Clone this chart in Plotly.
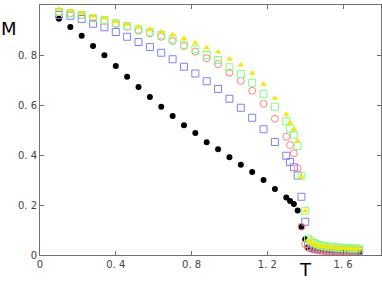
import plotly.graph_objects as go

T_main = [0.10, 0.16, 0.22, 0.28, 0.34, 0.40, 0.46, 0.52, 0.58, 0.64, 0.70, 0.76, 0.82,
          0.88, 0.94, 1.00, 1.06, 1.12, 1.18, 1.24, 1.30, 1.32, 1.34, 1.36, 1.38, 1.40]
T_tail = [1.415, 1.43, 1.445, 1.46, 1.475, 1.49, 1.505, 1.52, 1.535, 1.55, 1.565, 1.58,
          1.595, 1.61, 1.625, 1.64, 1.655, 1.67, 1.685]
T = T_main + T_tail

M_black = [0.945, 0.912, 0.877, 0.836, 0.799, 0.756, 0.713, 0.672, 0.632, 0.593, 0.556, 0.519, 0.488,
           0.451, 0.423, 0.391, 0.361, 0.332, 0.300, 0.264, 0.230, 0.216, 0.204, 0.178, 0.113, 0.063,
           0.030, 0.024, 0.020, 0.018, 0.016, 0.015, 0.014, 0.013, 0.013, 0.012, 0.012, 0.011, 0.011,
           0.011, 0.010, 0.010, 0.010, 0.010, 0.010]
M_blue = [0.960, 0.957, 0.944, 0.925, 0.911, 0.892, 0.873, 0.852, 0.832, 0.809, 0.783, 0.753, 0.726,
          0.695, 0.664, 0.625, 0.589, 0.549, 0.503, 0.452, 0.397, 0.372, 0.351, 0.318, 0.233, 0.133,
          0.045, 0.035, 0.030, 0.027, 0.025, 0.023, 0.022, 0.021, 0.020, 0.020, 0.019, 0.019, 0.018,
          0.018, 0.018, 0.017, 0.017, 0.017, 0.017]
M_red = [0.972, 0.967, 0.960, 0.947, 0.937, 0.924, 0.913, 0.897, 0.887, 0.873, 0.856, 0.836, 0.814,
         0.787, 0.764, 0.729, 0.697, 0.657, 0.605, 0.545, 0.473, 0.440, 0.407, 0.347, 0.113, 0.043,
         0.030, 0.025, 0.022, 0.020, 0.018, 0.017, 0.016, 0.015, 0.015, 0.014, 0.014, 0.013, 0.013,
         0.013, 0.012, 0.012, 0.012, 0.012, 0.012]
M_green = [0.972, 0.967, 0.960, 0.947, 0.940, 0.927, 0.916, 0.903, 0.893, 0.880, 0.863, 0.841, 0.823,
           0.800, 0.780, 0.751, 0.724, 0.689, 0.645, 0.593, 0.535, 0.505, 0.481, 0.436, 0.317, 0.177,
           0.065, 0.055, 0.048, 0.043, 0.040, 0.037, 0.035, 0.033, 0.032, 0.031, 0.030, 0.029, 0.028,
           0.028, 0.027, 0.027, 0.026, 0.026, 0.026]
M_yellow = [0.984, 0.976, 0.967, 0.956, 0.947, 0.933, 0.923, 0.913, 0.903, 0.892, 0.881, 0.866, 0.848,
            0.829, 0.812, 0.784, 0.760, 0.727, 0.683, 0.627, 0.563, 0.529, 0.503, 0.455, 0.313, 0.176,
            0.060, 0.050, 0.044, 0.040, 0.037, 0.034, 0.032, 0.031, 0.030, 0.029, 0.028, 0.027, 0.026,
            0.026, 0.025, 0.025, 0.024, 0.024, 0.024]

x_ticks = [0, 0.4, 0.8, 1.2, 1.6]
x_ticktext = ["0", "0. 4", "0. 8", "1. 2", "1. 6"]
y_ticks = [0, 0.2, 0.4, 0.6, 0.8, 1.0]
y_ticktext = ["0", "0. 2", "0. 4", "0. 6", "0. 8", "1"]

fig = go.Figure()
fig.add_trace(go.Scatter(x=T, y=M_black, mode="markers",
                         marker=dict(symbol="circle", size=6, color="black")))
fig.add_trace(go.Scatter(x=T, y=M_blue, mode="markers",
                         marker=dict(symbol="square-open", size=7, color="#7f7fff", line=dict(width=1))))
fig.add_trace(go.Scatter(x=T, y=M_red, mode="markers",
                         marker=dict(symbol="circle-open", size=7, color="#ff7f7f", line=dict(width=1))))
fig.add_trace(go.Scatter(x=T, y=M_green, mode="markers",
                         marker=dict(symbol="square-open", size=7, color="#7fff7f", line=dict(width=1))))
fig.add_trace(go.Scatter(x=T, y=M_yellow, mode="markers",
                         marker=dict(symbol="triangle-up", size=6, color="#f8e800")))

axis_common = dict(showgrid=False, zeroline=False, showline=True, linecolor="#707070", linewidth=1,
                   mirror="ticks", ticks="inside", ticklen=4, tickcolor="#707070", automargin=False,
                   tickfont=dict(family="DejaVu Sans", size=10, color="#444444"))
fig.update_xaxes(range=[0, 1.8], tickvals=x_ticks, ticktext=x_ticktext, **axis_common)
fig.update_yaxes(range=[0, 1.0], tickvals=y_ticks, ticktext=y_ticktext, **axis_common)

fig.add_annotation(text="M", xref="paper", yref="paper", x=-0.091, y=0.904, showarrow=False,
                   xanchor="center", yanchor="middle",
                   font=dict(family="DejaVu Sans", size=18, color="black"))
fig.add_annotation(text="T", xref="paper", yref="paper", x=0.78, y=-0.104, showarrow=False,
                   xanchor="center", yanchor="bottom", borderpad=0,
                   font=dict(family="DejaVu Sans", size=18, color="black"))

fig.update_layout(width=382, height=283, showlegend=False,
                  margin=dict(l=40, r=1, t=5, b=28, autoexpand=False),
                  plot_bgcolor="white", paper_bgcolor="white")
fig.write_html("out.html", config={"displayModeBar": False},
               post_script="document.body.style.margin='0';document.body.style.overflow='hidden';")
